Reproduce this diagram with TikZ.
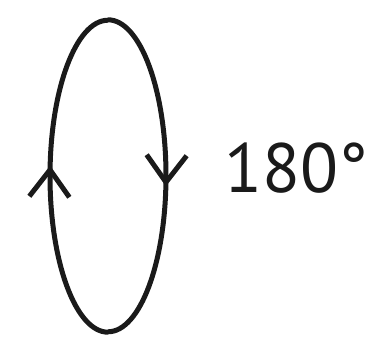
\documentclass[tikz,border=0pt]{standalone}
\usepackage{fontspec}
\setmainfont{PT Sans}
\usepackage{tikz}
\usetikzlibrary{arrows.meta,shapes.geometric,decorations.markings}
\definecolor{inkblack}{HTML}{1A1A1A}

\begin{document}
\begin{tikzpicture}[
  x=1bp, y=1bp,
  every node/.style={inner sep=0pt},
  loopshape/.style={ellipse, minimum width=116bp, minimum height=312bp},
  half/.style={draw=inkblack, line width=5bp,
    decoration={markings, mark=at position #1 with
      {\arrow{Straight Barb[length=27bp, width=40bp, line width=5bp]}}},
    postaction={decorate}},
  lbl/.style={font=\fontsize{70}{70}\selectfont, text=inkblack},
]
  \useasboundingbox (0,0) rectangle (377,340);
  \node[loopshape] (loop) at (108,164) {};
  \node[lbl, anchor=base west] (angle) at (224,148) {180°};

  \draw[half=0.53] (loop.north) arc[start angle=90, end angle=-90, x radius=58, y radius=156];
  \draw[half=0.53] (loop.south) arc[start angle=270, end angle=90, x radius=58, y radius=156];
\end{tikzpicture}
\end{document}
